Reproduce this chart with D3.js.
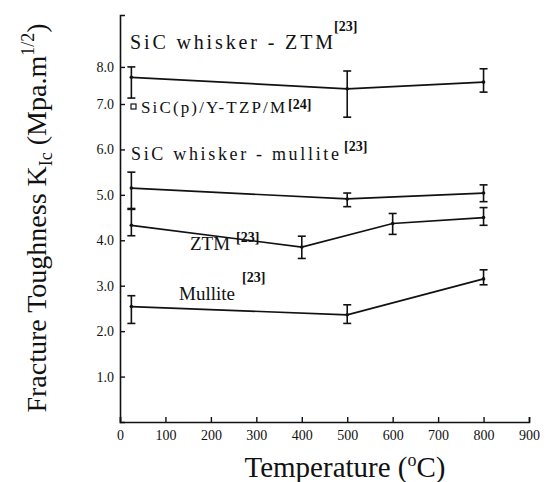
<!DOCTYPE html>
<meta charset="utf-8">
<script src="https://cdnjs.cloudflare.com/ajax/libs/d3/7.8.5/d3.min.js"></script>
<style>
	body{ margin:0; background:#fff; }
	svg#plot{ width:558px; height:482px; display:block; }
	.tick text{ font-family:"Liberation Serif","Times New Roman",serif; font-size:14px; fill:#111; }
	.type{ font-family:"Liberation Serif","Times New Roman",serif; fill:#111; }
	.serif{ font-family:"Liberation Serif","Times New Roman",serif; fill:#111; }
	.ref{ font-family:"Liberation Serif","Times New Roman",serif; font-weight:bold; font-size:14px; fill:#111; }
</style>
<svg id="plot"></svg>
<script>
	// tick values
	var xTicks = [0,100,200,300,400,500,600,700,800,900];
	var yTicks = [1,2,3,4,5,6,7,8];

	// SiC whisker - ZTM [23]
	var sicZtmT  = [25, 500, 800];
	var sicZtmK  = [7.72, 7.41, 7.59];
	var sicZtmLo = [7.16, 6.71, 7.32];
	var sicZtmHi = [8.0, 7.89, 7.95];

	// SiC whisker - mullite [23]
	var sicMulT  = [25, 500, 800];
	var sicMulK  = [5.15, 4.91, 5.04];
	var sicMulLo = [4.70, 4.74, 4.85];
	var sicMulHi = [5.50, 5.04, 5.22];

	// ZTM [23]
	var ztmT  = [25, 400, 600, 800];
	var ztmK  = [4.33, 3.85, 4.37, 4.50];
	var ztmLo = [4.10, 3.60, 4.13, 4.33];
	var ztmHi = [4.68, 4.09, 4.59, 4.72];

	// Mullite [23]
	var mulT  = [25, 500, 800];
	var mulK  = [2.54, 2.36, 3.15];
	var mulLo = [2.17, 2.17, 3.02];
	var mulHi = [2.78, 2.58, 3.35];

	var svg = d3.select("#plot");

	var x = d3.scaleLinear().domain([0,900]).range([120,529]);
	// the printed axis is squeezed between 7 and 8
	var y = d3.scaleLinear().domain([0,7,9.4]).range([422,104,15]);

	svg.append("g").attr("transform","translate(0,422)")
		.call(d3.axisBottom(x).tickValues(xTicks).tickSizeInner(-5).tickSizeOuter(-5).tickPadding(8));
	svg.append("g").attr("transform","translate(120,0)")
		.call(d3.axisLeft(y).tickValues(yTicks).tickFormat(d3.format(".1f")).tickSizeInner(-5).tickSizeOuter(-5).tickPadding(6));
	svg.selectAll(".domain").attr("stroke","#111").attr("stroke-width",1.6);
	svg.selectAll(".tick line").attr("stroke","#111").attr("stroke-width",1.4);

	function zip(t,k,lo,hi){
		return t.map(function(d,i){ return {t:d, k:k[i], lo:lo[i], hi:hi[i]}; });
	}
	var series = [
		zip(sicZtmT, sicZtmK, sicZtmLo, sicZtmHi),
		zip(sicMulT, sicMulK, sicMulLo, sicMulHi),
		zip(ztmT, ztmK, ztmLo, ztmHi),
		zip(mulT, mulK, mulLo, mulHi)
	];

	var line = d3.line().x(function(d){ return x(d.t); }).y(function(d){ return y(d.k); });

	series.forEach(function(s){
		svg.append("path").datum(s).attr("d", line)
			.attr("fill","none").attr("stroke","#111").attr("stroke-width",1.7);
		var g = svg.append("g").selectAll("g").data(s).enter().append("g")
			.attr("stroke","#111").attr("stroke-width",1.6);
		g.append("line")
			.attr("x1", function(d){ return x(d.t); }).attr("x2", function(d){ return x(d.t); })
			.attr("y1", function(d){ return y(d.lo); }).attr("y2", function(d){ return y(d.hi); });
		g.append("line")
			.attr("x1", function(d){ return x(d.t)-4; }).attr("x2", function(d){ return x(d.t)+4; })
			.attr("y1", function(d){ return y(d.lo); }).attr("y2", function(d){ return y(d.lo); });
		g.append("line")
			.attr("x1", function(d){ return x(d.t)-4; }).attr("x2", function(d){ return x(d.t)+4; })
			.attr("y1", function(d){ return y(d.hi); }).attr("y2", function(d){ return y(d.hi); });
		g.append("circle").attr("r",1.8).attr("fill","#111").attr("stroke","none")
			.attr("cx", function(d){ return x(d.t); }).attr("cy", function(d){ return y(d.k); });
	});

	// series labels (typewriter text, spaced out to the printed width)
	function label(px, py, txt, size, w, ref, rx, ry){
		var t = svg.append("text").attr("class","type").attr("x",px).attr("y",py)
			.style("font-size",size+"px").text(txt);
		if(w){ t.attr("textLength",w).attr("lengthAdjust","spacing"); }
		svg.append("text").attr("class","ref").attr("x",rx).attr("y",ry).text(ref);
	}
	label(130, 49, "SiC whisker - ZTM", 20, 203, "[23]", 334, 31);
	label(141, 113, "SiC(p)/Y-TZP/M", 17, 144, "[24]", 288, 109);
	label(131, 160, "SiC whisker - mullite", 18, 208, "[23]", 344, 151);
	label(190, 250, "ZTM", 19, 0, "[23]", 236, 242);
	label(179, 300, "Mullite", 19, 0, "[23]", 242, 282);
	svg.append("rect").attr("x",131).attr("y",104).attr("width",5).attr("height",5)
		.attr("fill","none").attr("stroke","#111").attr("stroke-width",1.2);

	// axis titles
	var xt = svg.append("text").attr("class","serif").attr("x",345).attr("y",477)
		.attr("text-anchor","middle").style("font-size","29px");
	xt.append("tspan").text("Temperature (");
	xt.append("tspan").attr("dy",-11).style("font-size","18px").text("o");
	xt.append("tspan").attr("dy",11).text("C)");

	var yt = svg.append("text").attr("class","serif")
		.attr("transform","translate(46,218) rotate(-90)")
		.attr("text-anchor","middle").style("font-size","28px");
	yt.append("tspan").text("Fracture Toughness K");
	yt.append("tspan").attr("dy",6).style("font-size","18px").text("Ic");
	yt.append("tspan").attr("dy",-6).text(" (Mpa.m");
	yt.append("tspan").attr("dy",-12).style("font-size","18px").text("1/2");
	yt.append("tspan").attr("dy",12).text(")");
</script>
